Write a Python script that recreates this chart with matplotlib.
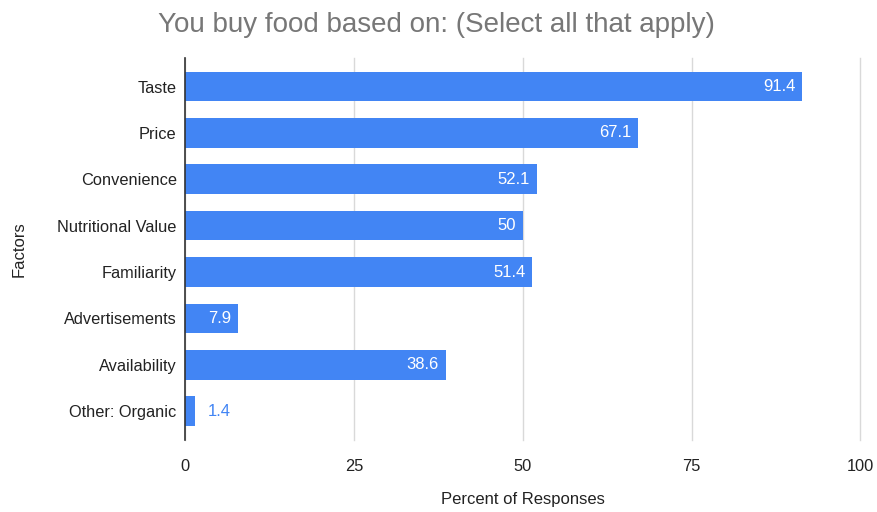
import matplotlib
matplotlib.use("Agg")
import matplotlib.pyplot as plt

categories = ["Taste", "Price", "Convenience", "Nutritional Value", "Familiarity",
              "Advertisements", "Availability", "Other: Organic"]
values = [91.4, 67.1, 52.1, 50, 51.4, 7.9, 38.6, 1.4]
x_ticks = [0, 25, 50, 75, 100]

plt.rcParams['font.family'] = ['Liberation Sans', 'DejaVu Sans']

fig = plt.figure(figsize=(8.77, 5.12), dpi=100)
ax = fig.add_axes([0.211, 0.141, 0.770, 0.746])

blue = "#4285F4"
ypos = list(range(len(categories)))
bars = ax.barh(ypos, values, height=0.64, color=blue, zorder=3)

for y, v in zip(ypos, values):
    label = f"{v:g}"
    if v > 5:
        ax.text(v - 1.0, y, label, ha="right", va="center", color="white",
                fontsize=12, zorder=4)
    else:
        ax.text(v + 2.0, y, label, ha="left", va="center", color=blue,
                fontsize=12, zorder=4)

ax.set_xlim(0, 100)
ax.set_ylim(len(categories) - 0.38, -0.62)
ax.set_xticks(x_ticks)
ax.set_xticklabels([str(t) for t in x_ticks])
ax.set_yticks(ypos)
ax.set_yticklabels(categories)
ax.tick_params(axis="both", length=0, labelsize=11.8, colors="#222222")
ax.tick_params(axis="x", pad=14)
ax.tick_params(axis="y", pad=6)

ax.grid(axis="x", color="#d9d9d9", linewidth=1, zorder=0)
for gl in ax.get_xgridlines():
    gl.set_clip_on(False)
for s in ["top", "right", "bottom"]:
    ax.spines[s].set_visible(False)
ax.spines["left"].set_color("#333333")
ax.spines["left"].set_linewidth(1.2)
ax.spines["left"].set_zorder(5)

ax.set_xlabel("Percent of Responses", fontsize=12, color="#222222")
ax.set_ylabel("Factors", fontsize=12, color="#222222")
ax.xaxis.set_label_coords(0.5, -0.137)
ax.yaxis.set_label_coords(-0.235, 0.5)

fig.text(0.498, 0.952, "You buy food based on: (Select all that apply)",
         ha="center", va="center", fontsize=20, color="#777777")

fig.savefig("out.png", dpi=100)
